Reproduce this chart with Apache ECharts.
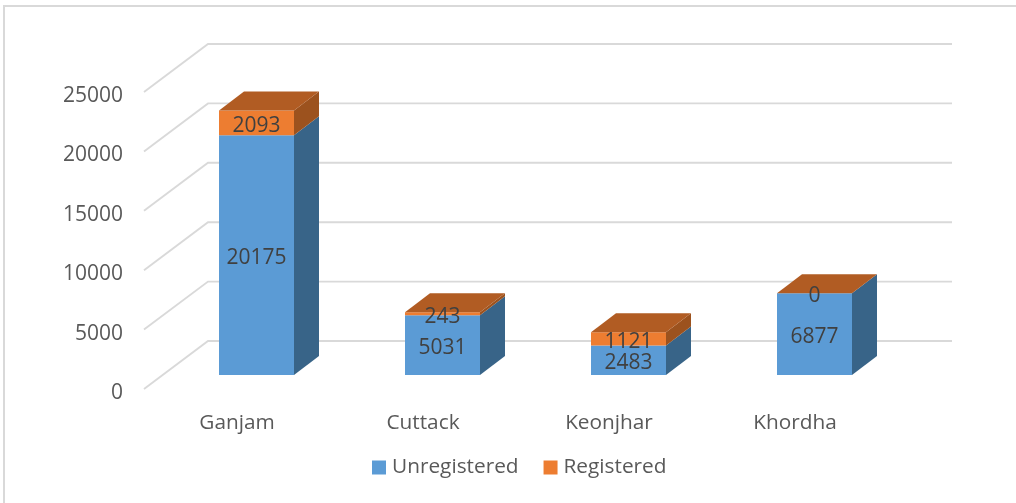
<!DOCTYPE html>
<html>
<head>
<meta charset="utf-8">
<style>html,body{margin:0;padding:0;background:#fff}#c{width:1016px;height:503px}</style>
<script src="https://cdn.jsdelivr.net/npm/echarts@6/dist/echarts.min.js"></script>
</head>
<body>
<div id="c"></div>
<script>
var categories = ['Ganjam', 'Cuttack', 'Keonjhar', 'Khordha'];
var unregistered = [20175, 5031, 2483, 6877];
var registered = [2093, 243, 1121, 0];
var yTicks = [0, 5000, 10000, 15000, 20000, 25000];

var FONT = '"Open Sans", sans-serif';
var FS = 20.8;
var FS_NUM = 21;
var LIFT = 4; // axis labels sit below the plane they belong to
var WALL_DX = 64, WALL_DY = 48;
var BAR_DX = 19.5, BAR_DY = 14 + LIFT;
var DEPTH_DX = 25, DEPTH_DY = 19;
var BAR_W = 75;

function poly(points, fill, z2) {
  return { type: 'polygon', shape: { points: points }, style: { fill: fill }, z2: z2 || 0, silent: true };
}

function barRenderer(frontColor, sideColor, topColor, drawTop) {
  return function (params, api) {
    var cat = api.value(0), base = api.value(1), val = api.value(2);
    var p0 = api.coord([cat, base]);
    var p1 = api.coord([cat, base + val]);
    var x0 = p0[0] + BAR_DX - BAR_W / 2, x1 = x0 + BAR_W;
    var y0 = p0[1] - BAR_DY, y1 = p1[1] - BAR_DY;
    var kids = [
      poly([[x1, y0], [x1 + DEPTH_DX, y0 - DEPTH_DY], [x1 + DEPTH_DX, y1 - DEPTH_DY], [x1, y1]], sideColor, 1),
      poly([[x0, y0], [x1, y0], [x1, y1], [x0, y1]], frontColor, 2)
    ];
    if (drawTop) {
      kids.push(poly([[x0, y1], [x1, y1], [x1 + DEPTH_DX, y1 - DEPTH_DY], [x0 + DEPTH_DX, y1 - DEPTH_DY]], topColor, 3));
    }
    kids.push({
      type: 'text', z2: 10, silent: true,
      style: {
        x: (x0 + x1) / 2, y: (y0 + y1) / 2 + 2.8, text: String(val),
        fill: '#404040', font: FS_NUM + 'px ' + FONT, textAlign: 'center', textVerticalAlign: 'middle'
      }
    });
    return { type: 'group', children: kids };
  };
}

var unregData = categories.map(function (c, i) { return [i, 0, unregistered[i]]; });
var regData = categories.map(function (c, i) { return [i, unregistered[i], registered[i]]; });

var option = {
  animation: false,
  backgroundColor: '#fff',
  graphic: [
    { type: 'line', silent: true, z: -10, shape: { x1: 3, y1: 6, x2: 1016, y2: 6 }, style: { stroke: '#D9D9D9', lineWidth: 2 } },
    { type: 'line', silent: true, z: -10, shape: { x1: 4, y1: 5, x2: 4, y2: 503 }, style: { stroke: '#D9D9D9', lineWidth: 2 } }
  ],
  grid: { left: 144, top: 92 + LIFT, width: 744, height: 297 },
  legend: {
    left: 367, top: 452, itemWidth: 14, itemHeight: 14, itemGap: 25, icon: 'rect',
    data: ['Unregistered', 'Registered'],
    textStyle: { color: '#595959', fontFamily: FONT, fontSize: FS, padding: [0, 0, 0, 1] }
  },
  xAxis: {
    type: 'category', data: categories,
    axisLine: { show: false }, axisTick: { show: false }, splitLine: { show: false },
    axisLabel: { color: '#595959', fontFamily: FONT, fontSize: FS, margin: 18, padding: [2, 0, 0, 0] }
  },
  yAxis: {
    type: 'value', min: 0, max: 25000, interval: 5000,
    axisLine: { show: false }, axisTick: { show: false }, splitLine: { show: false },
    axisLabel: {
      color: '#595959', fontFamily: FONT, fontSize: FS_NUM, margin: 21,
      formatter: function (v) { return String(v); }
    }
  },
  series: [
    {
      type: 'custom', name: 'walls', silent: true, z: 1, clip: false,
      data: yTicks.map(function (v) { return [0, v]; }),
      encode: { x: 0, y: 1 },
      renderItem: function (params, api) {
        var cs = params.coordSys;
        var y = api.coord([0, api.value(1)])[1] - LIFT;
        return {
          type: 'polyline', silent: true,
          shape: { points: [[cs.x, y], [cs.x + WALL_DX, y - WALL_DY], [cs.x + cs.width + WALL_DX, y - WALL_DY]] },
          style: { stroke: '#D9D9D9', lineWidth: 1.9, fill: 'none' }
        };
      }
    },
    {
      type: 'custom', name: 'Unregistered', z: 2, clip: false,
      itemStyle: { color: '#5B9BD5' },
      data: unregData, encode: { x: 0, y: 2 },
      renderItem: barRenderer('#5B9BD5', '#386488', '#386488', false)
    },
    {
      type: 'custom', name: 'Registered', z: 3, clip: false,
      itemStyle: { color: '#ED7D31' },
      data: regData, encode: { x: 0, y: 2 },
      renderItem: barRenderer('#ED7D31', '#9C521E', '#B15C23', true)
    }
  ]
};
var chart = echarts.init(document.getElementById('c'), null, { renderer: 'canvas' });
chart.setOption(option);
</script>
</body>
</html>
